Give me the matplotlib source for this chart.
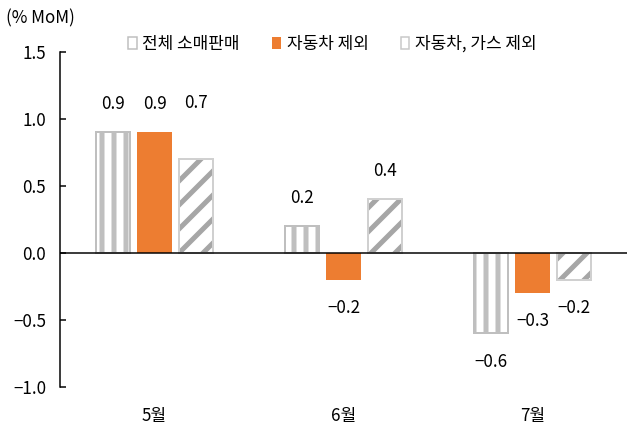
import numpy as np
import matplotlib
matplotlib.use("Agg")
import matplotlib.pyplot as plt
from matplotlib.patches import Patch

plt.rcParams['font.family'] = ['Noto Sans CJK KR', 'DejaVu Sans']
plt.rcParams['hatch.linewidth'] = 5
plt.rcParams['axes.unicode_minus'] = True

# data
months = ['5월', '6월', '7월']
series_names = ['전체 소매판매', '자동차 제외', '자동차, 가스 제외']
total = [0.9, 0.2, -0.6]
ex_auto = [0.9, -0.2, -0.3]
ex_auto_gas = [0.7, 0.4, -0.2]

grey = '#BFBFBF'
orange = '#ED7D31'
dark_grey = '#A6A6A6'
fs = 17

fig = plt.figure(figsize=(639 / 72, 434 / 72), dpi=72)
ax = fig.add_axes([60 / 639, 47 / 434, 567 / 639, 335 / 434])

x = np.arange(len(months))
w = 0.18
step = 0.22

ax.bar(x - step, total, w, facecolor='white', edgecolor=grey,
       hatch='|', linewidth=2)
ax.bar(x, ex_auto, w, color=orange, linewidth=0)
ax.bar(x + step, ex_auto_gas, w, facecolor='white', edgecolor=dark_grey,
       hatch='/', linewidth=0)
ax.bar(x + step, ex_auto_gas, w, facecolor='none', edgecolor='#D0D0D0',
       linewidth=2)

ax.axhline(0, color='black', lw=1.5, zorder=5)


def fmt(v):
    return f'{v:.1f}'.replace('-', '\u2212')


# value labels (extra lift for the 0.7 label so it lines up with 0.9)
lift = {(2, 0): 0.42}
for k, (vals, off) in enumerate([(total, -step), (ex_auto, 0), (ex_auto_gas, step)]):
    for i, v in enumerate(vals):
        d = lift.get((k, i), 0.21)
        y = v + d if v >= 0 else v - d
        ax.text(x[i] + off, y, fmt(v), ha='center', va='center', fontsize=fs)

ticks = [-1.0, -0.5, 0.0, 0.5, 1.0, 1.5]
ax.set_xlim(-0.5, 2.5)
ax.set_ylim(-1.0, 1.5)
ax.set_yticks(ticks)
ax.set_yticklabels([fmt(t) for t in ticks])
ax.set_xticks(x)
ax.set_xticklabels(months)
ax.tick_params(axis='y', direction='in', length=6, width=1.5, labelsize=fs, pad=14)
ax.tick_params(axis='x', length=0, labelsize=fs, pad=20)

for s in ['top', 'right', 'bottom']:
    ax.spines[s].set_visible(False)
ax.spines['left'].set_linewidth(1.5)

fig.text(6 / 639, 1 - 18 / 434, '(% MoM)', fontsize=fs, va='center', ha='left')

handles = [
    Patch(facecolor='white', edgecolor=grey, linewidth=1.5),
    Patch(facecolor=orange, edgecolor=orange, linewidth=0),
    Patch(facecolor='white', edgecolor='#C8C8C8', linewidth=1.5),
]
leg = fig.legend(handles, series_names, loc='center left',
                 bbox_to_anchor=(128 / 639, 1 - 44 / 434),
                 ncol=3, frameon=False, fontsize=fs, handlelength=0.5,
                 handleheight=0.75, handletextpad=0.35, columnspacing=1.9,
                 borderaxespad=0, borderpad=0)

fig.savefig('out.png', dpi=72)
